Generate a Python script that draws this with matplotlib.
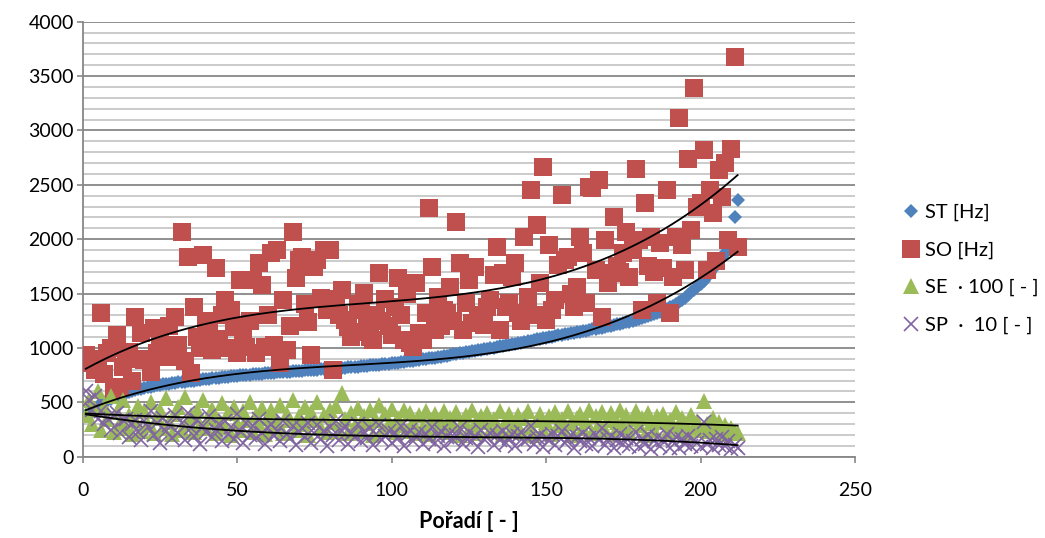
import numpy as np
import matplotlib
matplotlib.use("Agg")
import matplotlib.pyplot as plt
from matplotlib.ticker import MultipleLocator
from matplotlib.lines import Line2D

plt.rcParams['font.family'] = ['Lato', 'DejaVu Sans']

# order of the measurement (x axis)
poradi = list(range(1, 213))

# ST [Hz] - sorted ascending
st_hz = [
    380, 395, 415, 440, 462, 482, 500, 516, 531, 545,
    558, 568, 578, 588, 597, 605, 612, 619, 626, 633,
    640, 645, 650, 655, 660, 664, 668, 672, 676, 680,
    684, 687, 690, 694, 697, 700, 704, 707, 710, 714,
    717, 720, 723, 726, 729, 732, 735, 738, 741, 744,
    747, 749, 752, 754, 757, 759, 762, 764, 766, 769,
    771, 773, 775, 777, 779, 781, 783, 785, 787, 789,
    791, 793, 795, 797, 799, 801, 803, 805, 807, 809,
    811, 813, 815, 817, 819, 821, 823, 826, 828, 831,
    833, 836, 839, 841, 844, 847, 850, 853, 856, 859,
    862, 866, 869, 873, 876, 880, 884, 888, 892, 896,
    900, 904, 908, 912, 917, 921, 926, 930, 935, 940,
    944, 949, 954, 959, 964, 969, 974, 979, 984, 989,
    994, 999, 1004, 1009, 1014, 1019, 1024, 1029, 1034, 1040,
    1045, 1050, 1056, 1061, 1067, 1072, 1078, 1083, 1089, 1095,
    1100, 1105, 1110, 1115, 1120, 1125, 1130, 1135, 1140, 1145,
    1150, 1155, 1160, 1165, 1170, 1175, 1180, 1186, 1192, 1198,
    1204, 1210, 1216, 1222, 1229, 1236, 1243, 1250, 1257, 1265,
    1273, 1281, 1290, 1300, 1310, 1320, 1332, 1345, 1358, 1372,
    1388, 1405, 1420, 1440, 1462, 1485, 1510, 1535, 1562, 1590,
    1620, 1655, 1690, 1730, 1770, 1805, 1840, 1870, 1900, 1940,
    2206, 2360,
]

# SO [Hz]
so_hz = [
    935, 900, 860, 797, 880, 1323, 760, 950, 1000, 620,
    1118, 640, 825, 900, 960, 700, 1284, 900, 1137, 889,
    900, 780, 1180, 950, 1045, 1000, 917, 1200, 920, 1284,
    1027, 2070, 880, 1835, 770, 1376, 1100, 1000, 1853, 1250,
    1146, 980, 1735, 1080, 1300, 1440, 1000, 1350, 1192, 950,
    1625, 1100, 1011, 1250, 1624, 950, 1780, 1578, 1011, 1300,
    1869, 1027, 1900, 858, 1440, 981, 1200, 2068, 1640, 1808,
    1838, 1400, 1241, 935, 1746, 1808, 1456, 1900, 1350, 1900,
    797, 1450, 1300, 1532, 1256, 1195, 1103, 1149, 1400, 1350,
    1502, 1200, 1103, 1073, 1300, 1686, 1250, 1450, 1200, 1119,
    1380, 1640, 1300, 1073, 1500, 1042, 1011, 1594, 1134, 1073,
    1318, 2283, 1746, 1165, 1471, 1200, 1348, 1318, 1563, 1250,
    2160, 1778, 1165, 1410, 1624, 1226, 1746, 1300, 1256, 1210,
    1379, 1440, 1670, 1930, 1165, 1686, 1379, 1410, 1655, 1778,
    1318, 1250, 2022, 1471, 2451, 1300, 2130, 1600, 2665, 1256,
    1946, 1348, 1440, 1762, 2405, 1808, 1838, 1500, 1379, 1563,
    2022, 1869, 1410, 2482, 2467, 1716, 2543, 1287, 1992, 1600,
    1686, 2206, 1750, 1700, 1869, 2068, 1655, 1900, 2650, 1992,
    1348, 2329, 1750, 2022, 1700, 1410, 1961, 1731, 2451, 1318,
    1655, 2022, 3110, 1946, 1716, 2742, 2084, 3386, 2298, 2329,
    2819, 1716, 2451, 2237, 1800, 2635, 2390, 2697, 1992, 2834,
    3676, 1930,
]

# SE * 100 [-]
se_100 = [
    380, 520, 300, 440, 600, 250, 470, 350, 560, 230,
    410, 310, 520, 260, 380, 210, 340, 470, 240, 420,
    290, 500, 220, 360, 430, 260, 540, 320, 210, 390,
    460, 250, 550, 310, 380, 230, 430, 290, 520, 260,
    360, 440, 220, 330, 490, 270, 400, 200, 460, 310,
    250, 420, 340, 500, 230, 380, 290, 450, 210, 360,
    430, 260, 320, 480, 220, 390, 340, 520, 250, 370,
    300, 460, 200, 410, 340, 500, 260, 380, 230, 430,
    320, 470, 240, 590, 350, 220, 400, 280, 450, 240,
    370, 310, 430, 200, 340, 480, 250, 390, 300, 440,
    230, 360, 290, 430, 240, 400, 320, 220, 380, 270,
    420, 210, 340, 390, 260, 310, 420, 230, 360, 290,
    410, 200, 330, 380, 250, 430, 300, 220, 370, 320,
    400, 240, 350, 280, 420, 210, 330, 390, 260, 310,
    380, 230, 360, 420, 270, 200, 340, 390, 250, 320,
    370, 210, 410, 290, 350, 240, 420, 310, 200, 360,
    390, 260, 330, 430, 220, 370, 300, 410, 250, 340,
    400, 210, 320, 430, 270, 380, 230, 350, 420, 290,
    360, 200, 400, 310, 250, 370, 320, 390, 220, 340,
    290, 410, 240, 360, 310, 220, 380, 270, 330, 250,
    510, 300, 240, 360, 270, 320, 210, 290, 250, 260,
    230, 220,
]

# SP * 10 [-]
sp_10 = [
    600, 520, 430, 560, 350, 420, 300, 360, 250, 380,
    400, 220, 340, 350, 180, 300, 340, 230, 150, 330,
    270, 420, 200, 310, 130, 360, 240, 290, 170, 380,
    220, 310, 150, 400, 260, 190, 340, 120, 280, 230,
    370, 180, 250, 300, 140, 330, 210, 270, 160, 390,
    240, 130, 310, 200, 280, 170, 350, 220, 120, 260,
    300, 190, 240, 140, 330, 210, 170, 280, 110, 230,
    260, 180, 310, 130, 220, 290, 160, 240, 100, 270,
    200, 330, 150, 240, 280, 120, 210, 180, 300, 140,
    230, 170, 260, 110, 210, 290, 150, 190, 240, 130,
    220, 170, 280, 100, 200, 250, 140, 190, 230, 120,
    210, 160, 270, 130, 190, 240, 100, 180, 220, 150,
    200, 260, 120, 170, 230, 140, 190, 90, 250, 160,
    180, 220, 110, 200, 150, 240, 130, 170, 210, 100,
    190, 230, 140, 160, 280, 120, 180, 200, 90, 170,
    150, 210, 110, 190, 240, 130, 160, 200, 80, 180,
    140, 220, 120, 170, 100, 200, 150, 260, 110, 160,
    190, 80, 150, 210, 120, 170, 100, 140, 230, 90,
    160, 120, 200, 70, 140, 180, 100, 150, 210, 80,
    140, 180, 80, 160, 120, 190, 100, 150, 130, 90,
    320, 120, 150, 80, 160, 110, 180, 100, 140, 70,
    110, 80,
]

C_ST = '#4F81BD'
C_SO = '#C0504D'
C_SE = '#9BBB59'
C_SP = '#8064A2'
GRID_MAJOR = '#878787'
GRID_MINOR = '#bdbdbd'

fig = plt.figure(figsize=(10.45, 5.38), dpi=100)
ax = fig.add_axes([82.7 / 1045, 1 - 456.7 / 538, (855 - 82.7) / 1045, (456.7 - 21.7) / 538])

x = np.array(poradi, dtype=float)
series = [
    (st_hz, C_ST, dict(marker='D', markersize=7.2, linestyle='none',
                       markerfacecolor=C_ST, markeredgecolor=C_ST, markeredgewidth=0)),
    (so_hz, C_SO, dict(marker='s', markersize=12.8, linestyle='none',
                       markerfacecolor=C_SO, markeredgecolor=C_SO, markeredgewidth=0)),
    (se_100, C_SE, dict(marker='^', markersize=11.5, linestyle='none',
                        markerfacecolor=C_SE, markeredgecolor=C_SE, markeredgewidth=0)),
    (sp_10, C_SP, dict(marker='x', markersize=10.5, linestyle='none',
                       markeredgecolor=C_SP, markeredgewidth=1.2)),
]
for vals, col, style in series:
    ax.plot(x, vals, zorder=3, **style)

# third-order polynomial trend for every series
xx = np.linspace(x.min(), x.max(), 300)
for vals, col, style in series:
    coef = np.polyfit(x, np.array(vals, dtype=float), 3)
    ax.plot(xx, np.polyval(coef, xx), color='black', lw=1.3, zorder=4)

ax.set_xlim(0, 250)
ax.set_ylim(0, 4000)
ax.xaxis.set_major_locator(MultipleLocator(50))
ax.yaxis.set_major_locator(MultipleLocator(500))
ax.yaxis.set_minor_locator(MultipleLocator(100))

ax.grid(which='major', axis='y', color=GRID_MAJOR, lw=1.3, zorder=0)
ax.grid(which='minor', axis='y', color=GRID_MINOR, lw=1.1, zorder=0)
ax.set_axisbelow(True)

for side in ('top', 'right'):
    ax.spines[side].set_visible(False)
for side in ('left', 'bottom'):
    ax.spines[side].set_color(GRID_MAJOR)
    ax.spines[side].set_linewidth(1.3)

ax.tick_params(axis='y', which='major', direction='out', length=4.3, width=1.2,
               color=GRID_MAJOR, labelsize=14, pad=2)
ax.tick_params(axis='y', which='minor', length=0)
ax.tick_params(axis='x', which='major', direction='out', length=4.3, width=1.2,
               color=GRID_MAJOR, labelsize=14, pad=14)

fig.text(469 / 1045, 1 - 522 / 538, 'Pořadí [ - ]', ha='center', va='center',
         fontsize=15.5, fontweight='bold')

handles = [Line2D([], [], **s[2]) for s in series]
labels = ['ST [Hz]', 'SO [Hz]', 'SE  · 100 [ - ]', 'SP  ·  10 [ - ]']
fig.legend(handles, labels, loc='center left', bbox_to_anchor=(895 / 1045, 1 - 269 / 538),
           frameon=False, fontsize=14.5, handlelength=0.8, handletextpad=0.3,
           labelspacing=1.0, borderpad=0.4, borderaxespad=0)

fig.savefig('out.png', dpi=100, facecolor='white')
